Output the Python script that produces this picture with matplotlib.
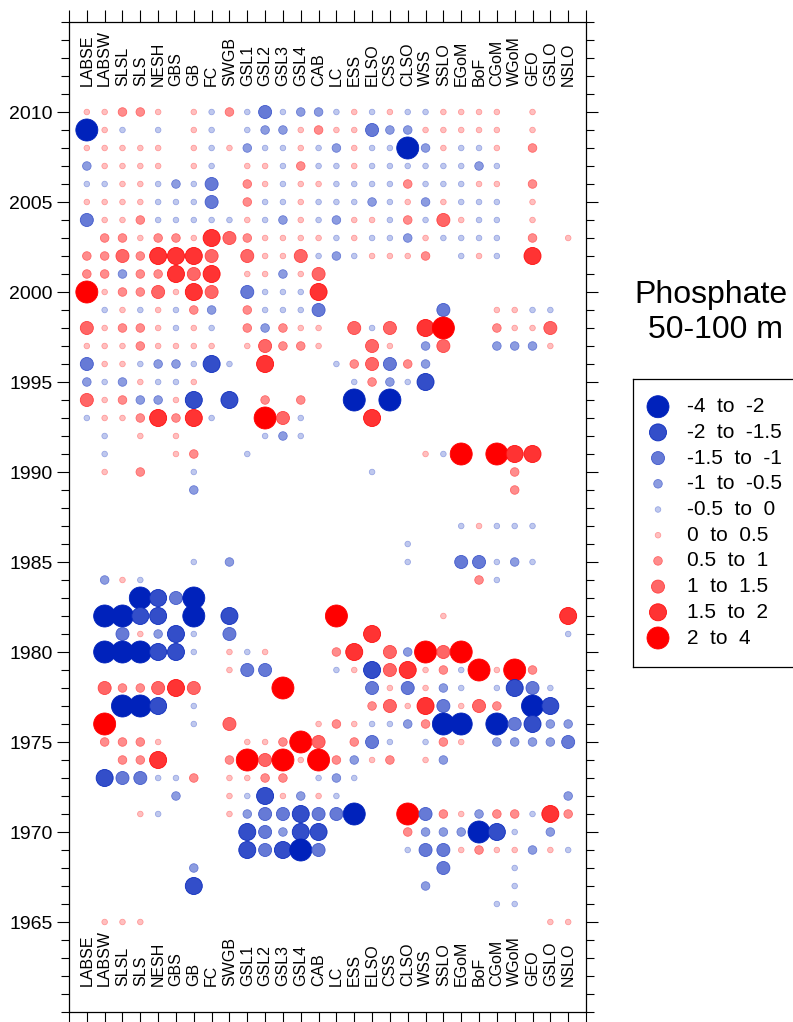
import numpy as np
import matplotlib
matplotlib.use("Agg")
import matplotlib.pyplot as plt

plt.rcParams['font.family'] = ['Liberation Sans', 'DejaVu Sans']

# ---------------- data ----------------
stations = ["LABSE", "LABSW", "SLSL", "SLS", "NESH", "GBS", "GB", "FC", "SWGB",
            "GSL1", "GSL2", "GSL3", "GSL4", "CAB", "LC", "ESS", "ELSO", "CSS",
            "CLSO", "WSS", "SSLO", "EGoM", "BoF", "CGoM", "WGoM", "GEO", "GSLO", "NSLO"]

# anomaly class codes (one character per station, '.' = no data)
# A:-4..-2  B:-2..-1.5  C:-1.5..-1  D:-1..-0.5  E:-0.5..0
# e:0..0.5  d:0.5..1    c:1..1.5    b:1.5..2    a:2..4
grid_rows = {
    2010: "eedde.eEdECEDD" "EeEeEEeeee.e..",
    2009: "AeE.E.eE.EDDed" "eeCDDeeeee.e..",
    2008: "eeeee.eEeDEEeE" "DeEEADeEEe.d..",
    2007: "Deeee.eE.eeEdE" "EeEEEEEEDE....",
    2006: "EEeeEDEC.deEee" "EEEEdEEEee.d..",
    2005: "eeeeEEEC.dEEeE" "EEDEeDeEEE.e..",
    2004: "CeedEEEEEeEDeE" "DeeEdEceEE.e..",
    2003: ".ddeddebcdeeee" "EeEEDeEEEE.d.e",
    2002: "ddcdbbbc.ceecE" "DEeeed.EeE.b..",
    2001: "ddDddbcb.eeDec" "..............",
    2000: "aeddcebc.CEEEb" "..............",
    1999: ".EeEeEdD.dEEEC" "......C..eeEE.",
    1998: "ceddeEeE.dDdee" ".cEc.ba..deec.",
    1997: "eeedeeee.ecdde" "..ce.Dc..DDDe.",
    1996: "CeeEDDEBE.b..." "EdcCdD........",
    1995: "DEDeEEe......." ".EdDEB........",
    1994: "cedDDeB.B.d.d." ".A.A..........",
    1993: "EeedbdbE..acE." "..b...........",
    1992: ".E.e.e....EDE." "..............",
    1991: ".E...ed..E...." ".....eEa.abb..",
    1990: ".e.d..E......." "..E.......d...",
    1989: "......D......." "..........d...",
    1988: ".............." "..............",
    1987: ".............." ".......EeEEE..",
    1986: ".............." "....E.........",
    1985: "......E.D....." "....E..CCEDE..",
    1984: ".DeE.........." "........dE....",
    1983: "...ABCA......." "..............",
    1982: ".AABB.A.B....." "a.....e......b",
    1981: "..CeDBE.C....." "..b..........E",
    1980: ".AAABBE.eEe..." "db.cDaca......",
    1979: "........eCC..." "EeBcbedEaead..",
    1978: ".cddcbc....a.." "..CeCeDE.EBCE.",
    1977: "..AAB.E......." "..dcebCecd.AB.",
    1976: ".a....E.c....e" "deEEDdAA.ACBDD",
    1975: ".ddde....eedac" ".dCE.Ede.DDDDC",
    1974: "..ddb...dacaea" "dDed.eD.......",
    1973: ".BCCEEd.eedd.E" "DE............",
    1972: ".....D..eEBeDe" "E............D",
    1971: "...eE...eDCCBC" "CA..aCdeDddEbd",
    1970: ".........BCDBB" "....dDDDABE.D.",
    1969: ".........BCBAC" "....ECCedeeDeE",
    1968: "......D......." "......C...E...",
    1967: "......B......." ".....D....E...",
    1966: ".............." ".........EE...",
    1965: ".eee.........." "............ee",
}

# representative anomaly value of each class
code_value = {"A": -3.0, "B": -1.75, "C": -1.25, "D": -0.75, "E": -0.25,
              "e": 0.25, "d": 0.75, "c": 1.25, "b": 1.75, "a": 3.0}

bin_edges = [-4, -2, -1.5, -1, -0.5, 0, 0.5, 1, 1.5, 2, 4]
legend_labels = ["-4  to  -2", "-2  to  -1.5", "-1.5  to  -1", "-1  to  -0.5",
                 "-0.5  to  0", "0  to  0.5", "0.5  to  1", "1  to  1.5",
                 "1.5  to  2", "2  to  4"]

title_lines = ["Phosphate", "50-100 m"]

# ---------------- styles ----------------
blue = np.array([0, 34, 187]) / 255.0
red = np.array([255, 0, 0]) / 255.0
alphas = [1.0, 0.8, 0.6, 0.45, 0.25]


def mix(c, a):
    return tuple(1 - a * (1 - c))


class_colors = [mix(blue, a) for a in alphas] + [mix(red, a) for a in alphas[::-1]]
edge_colors = [mix(blue, min(1, a + 0.15)) for a in alphas] + \
              [mix(red, min(1, a + 0.15)) for a in alphas[::-1]]
diam_px = [22, 17, 13, 8.5, 5.5]
diam_px = diam_px + diam_px[::-1]
class_sizes = [(d * 0.72) ** 2 for d in diam_px]

# ---------------- build points ----------------
xs, ys, vals = [], [], []
for yr, row in grid_rows.items():
    for i, ch in enumerate(row):
        if ch in code_value:
            xs.append(i)
            ys.append(yr)
            vals.append(code_value[ch])
xs = np.array(xs); ys = np.array(ys); vals = np.array(vals)
cls = np.clip(np.digitize(vals, bin_edges) - 1, 0, 9)

# ---------------- figure ----------------
fig = plt.figure(figsize=(7.93, 10.22), dpi=100)
ax = fig.add_axes([69 / 793, 10 / 1022, (586 - 69) / 793, (1012 - 22) / 1022])

ax.scatter(xs, ys, s=[class_sizes[c] for c in cls],
           c=[class_colors[c] for c in cls],
           edgecolors=[edge_colors[c] for c in cls], linewidths=0.6, zorder=3)

ax.set_xlim(-1, 28)
ax.set_ylim(1960, 2015)
ax.set_xticks(np.arange(-1, 29))
ax.tick_params(axis='x', which='major', top=True, bottom=True, direction='out',
               length=8.6, width=0.8, labelbottom=False, labeltop=False)
ax.set_yticks(np.arange(1965, 2011, 5))
ax.set_yticks(np.arange(1960, 2016), minor=True)
ax.tick_params(axis='y', which='major', left=True, right=True, direction='out',
               length=8.6, width=0.8, labelsize=14, pad=3)
ax.tick_params(axis='y', which='minor', left=True, right=True, direction='out',
               length=5.5, width=0.8)
for sp in ax.spines.values():
    sp.set_linewidth(0.9)

for i, name in enumerate(stations):
    ax.text(i, 2011.45, name, rotation=90, ha='center', va='bottom', fontsize=11.5)
    ax.text(i, 1961.45, name, rotation=90, ha='center', va='bottom', fontsize=11.5)

# title
fig.text(711 / 793, 1 - 303 / 1022, title_lines[0], ha='center', va='baseline', fontsize=23)
fig.text(716 / 793, 1 - 338 / 1022, title_lines[1], ha='center', va='baseline', fontsize=23)

# legend (own small axes)
lax = fig.add_axes([633 / 793, (1022 - 667) / 1022, (800 - 633) / 793, (667 - 379) / 1022])
lax.set_xlim(0, 167)
lax.set_ylim(288, 0)
lax.set_xticks([]); lax.set_yticks([])
for sp in lax.spines.values():
    sp.set_linewidth(0.9)
row_y = 27.7 + 25.7 * np.arange(10)
lax.scatter(np.full(10, 25.0), row_y, s=class_sizes, c=class_colors,
            edgecolors=edge_colors, linewidths=0.6)
for yv, lab in zip(row_y, legend_labels):
    lax.text(54, yv, lab, ha='left', va='center', fontsize=15)

fig.savefig("out.png", dpi=100)
